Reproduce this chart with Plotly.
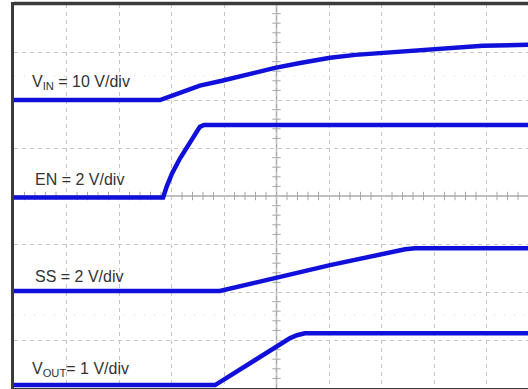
import plotly.graph_objects as go

# Time axis in divisions (0..10), voltage axis in divisions (0..8 from bottom)
vin_t = [0.00, 2.78, 3.16, 3.54, 3.96, 4.50, 4.97, 5.45, 6.02, 6.50, 6.97, 7.45, 7.96, 8.50, 8.93, 9.79]
vin_v = [6.00, 6.00, 6.15, 6.30, 6.40, 6.55, 6.67, 6.77, 6.88, 6.94, 6.98, 7.02, 7.05, 7.10, 7.13, 7.15]

en_t = [0.00, 2.84, 2.91, 3.01, 3.16, 3.35, 3.54, 3.62, 9.79]
en_v = [3.97, 3.97, 4.20, 4.47, 4.78, 5.13, 5.44, 5.48, 5.48]

ss_t = [0.00, 3.92, 6.02, 7.26, 7.45, 7.64, 9.79]
ss_v = [2.02, 2.02, 2.56, 2.85, 2.89, 2.91, 2.91]

vout_t = [0.00, 3.83, 5.26, 5.39, 5.54, 9.79]
vout_v = [0.06, 0.06, 1.04, 1.10, 1.14, 1.14]

labels = ["V<sub>IN</sub> = 10 V/div", "EN = 2 V/div", "SS = 2 V/div", "V<sub>OUT</sub>= 1 V/div"]
label_pos = [(0.31, 6.36), (0.37, 4.34), (0.37, 2.32), (0.31, 0.39)]
ch_offsets = [6.00, 3.97, 2.02, 0.06]

X_RANGE = [0, 9.79]
Y_RANGE = [0, 8]
BLUE = "#1010da"

fig = go.Figure()

# faint dotted half-division rows
for yy in [6.5, 1.52]:
    fig.add_shape(type="line", xref="x", yref="y", x0=X_RANGE[0], x1=X_RANGE[1], y0=yy, y1=yy,
                  line=dict(color="#d8d8d8", width=1, dash="1px,9px"), layer="below")

# centre axes (solid) with minor ticks
fig.add_shape(type="line", xref="x", yref="y", x0=5, x1=5, y0=0, y1=8,
              line=dict(color="#a8a8a8", width=1.5), layer="below")
fig.add_shape(type="line", xref="x", yref="y", x0=0, x1=X_RANGE[1], y0=4, y1=4,
              line=dict(color="#a8a8a8", width=1.5), layer="below")
tx = [i * 0.2 for i in range(0, 50) if i % 5 != 0]
fig.add_trace(go.Scatter(x=tx, y=[4] * len(tx), mode="markers", hoverinfo="skip",
                         marker=dict(symbol="line-ns", size=6, line=dict(color="#a8a8a8", width=1)),
                         showlegend=False))
ty = [i * 0.2 for i in range(0, 40) if i % 5 != 0]
fig.add_trace(go.Scatter(x=[5] * len(ty), y=ty, mode="markers", hoverinfo="skip",
                         marker=dict(symbol="line-ew", size=6, line=dict(color="#a8a8a8", width=1)),
                         showlegend=False))

for t, v in [(vin_t, vin_v), (en_t, en_v), (ss_t, ss_v), (vout_t, vout_v)]:
    fig.add_trace(go.Scatter(x=t, y=v, mode="lines", line=dict(color=BLUE, width=4.5),
                             hoverinfo="skip", showlegend=False))

# channel reference markers
fig.add_trace(go.Scatter(x=[-0.05] * len(ch_offsets), y=ch_offsets, mode="markers", cliponaxis=False,
                         marker=dict(symbol="triangle-right", size=5, color="#222222"),
                         hoverinfo="skip", showlegend=False))

for txt, (x, y) in zip(labels, label_pos):
    fig.add_annotation(x=x, y=y, xref="x", yref="y", text=txt, showarrow=False,
                       xanchor="left", yanchor="middle",
                       font=dict(family="Liberation Sans, Arial", size=16, color="#333333"))

# top frame band
fig.add_shape(type="rect", xref="paper", yref="paper", x0=0, x1=1, y0=0.997, y1=1.006,
              fillcolor="#3a3a3a", line=dict(width=0))

fig.update_layout(
    width=528, height=389,
    margin=dict(l=14, r=0, t=4, b=1),
    paper_bgcolor="white", plot_bgcolor="white",
    xaxis=dict(range=X_RANGE, dtick=1, tick0=0, showticklabels=False, ticks="",
               showgrid=True, gridcolor="#c4c4c4", gridwidth=1, griddash="4px,4px",
               zeroline=False, showline=True, mirror=True, linecolor="#3a3a3a", linewidth=2),
    yaxis=dict(range=Y_RANGE, dtick=1, tick0=0, showticklabels=False, ticks="",
               showgrid=True, gridcolor="#c4c4c4", gridwidth=1, griddash="4px,4px",
               zeroline=False, showline=True, mirror=False, linecolor="#3a3a3a", linewidth=3),
)

fig.write_html("out.html", config={"displayModeBar": False},
               post_script="document.body.style.margin='0';document.body.style.overflow='hidden';")
